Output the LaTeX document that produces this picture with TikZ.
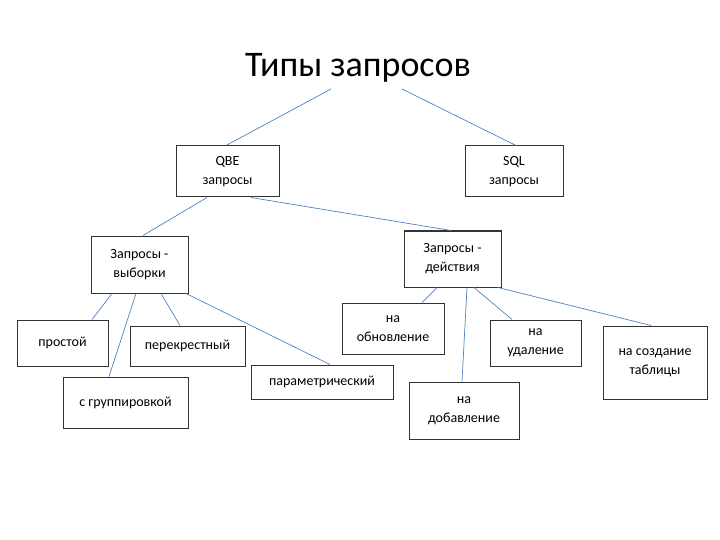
\documentclass[tikz,border=0pt]{standalone}
\usepackage{fontspec}
\setmainfont{Carlito}
\definecolor{linkc}{RGB}{79,129,189}
\begin{document}
\begin{tikzpicture}[x=1pt,y=-1pt,
 box/.style={draw=black!80,line width=1pt,inner sep=1pt,align=center,font=\fontsize{14}{19}\selectfont},
 link/.style={draw=linkc,line width=0.7pt}]
\useasboundingbox (0,0) rectangle (720,540);
\newcommand{\bx}[6]{\node[box,minimum width=#4-#2,minimum height=#5-#3] (#1) at ({(#2+#4)/2},{(#3+#5)/2}) {#6};}
\node[font=\fontsize{36}{40}\selectfont,inner sep=0pt] (title) at (358,68) {Типы запросов};
\bx{qbe}{176}{146}{279}{197}{QBE\\запросы}
\bx{sql}{465}{146}{563}{197}{SQL\\запросы}
\bx{vyb}{91}{236}{188}{293}{Запросы -\\выборки}
\bx{dei}{404}{231}{501}{287}{Запросы -\\действия}
\bx{prost}{17}{320}{108}{366}{простой}
\bx{perek}{130}{326}{245}{366}{перекрестный}
\bx{grupp}{63}{377}{188}{428}{с группировкой}
\bx{param}{251}{365}{393}{399}{параметрический}
\bx{obn}{342}{303}{444}{354}{на\\обновление}
\bx{dob}{409}{382}{519}{439}{на\\добавление}
\bx{udal}{490}{320}{581}{366}{на\\удаление}
\bx{sozd}{603}{326}{707}{399}{на создание\\таблицы}
\draw[link] (331,89) coordinate (t1) -- (qbe.north -| 226,0);
\draw[link] (402,89) coordinate (t2) -- (sql.north -| 516,0);
\draw[link] (qbe.south -| 207,0) -- (vyb.north -| 143,0);
\draw[link] (qbe.south -| 251,0) -- (dei.north -| 451,0);
\draw[link] (vyb.south -| 112,0) -- (prost.north -| 92,0);
\draw[link] (vyb.south -| 136,0) -- (grupp.north -| 109,0);
\draw[link] (vyb.south -| 161,0) -- (perek.north -| 180,0);
\draw[link] (vyb.south -| 186,0) -- (param.north -| 330,0);
\draw[link] (dei.south -| 437,0) -- (obn.north -| 422,0);
\draw[link] (dei.south -| 467,0) -- (dob.north -| 462,0);
\draw[link] (dei.south -| 474,0) -- (udal.north -| 512,0);
\draw[link] (dei.south -| 498,0) -- (sozd.north -| 651,0);
\end{tikzpicture}
\end{document}
